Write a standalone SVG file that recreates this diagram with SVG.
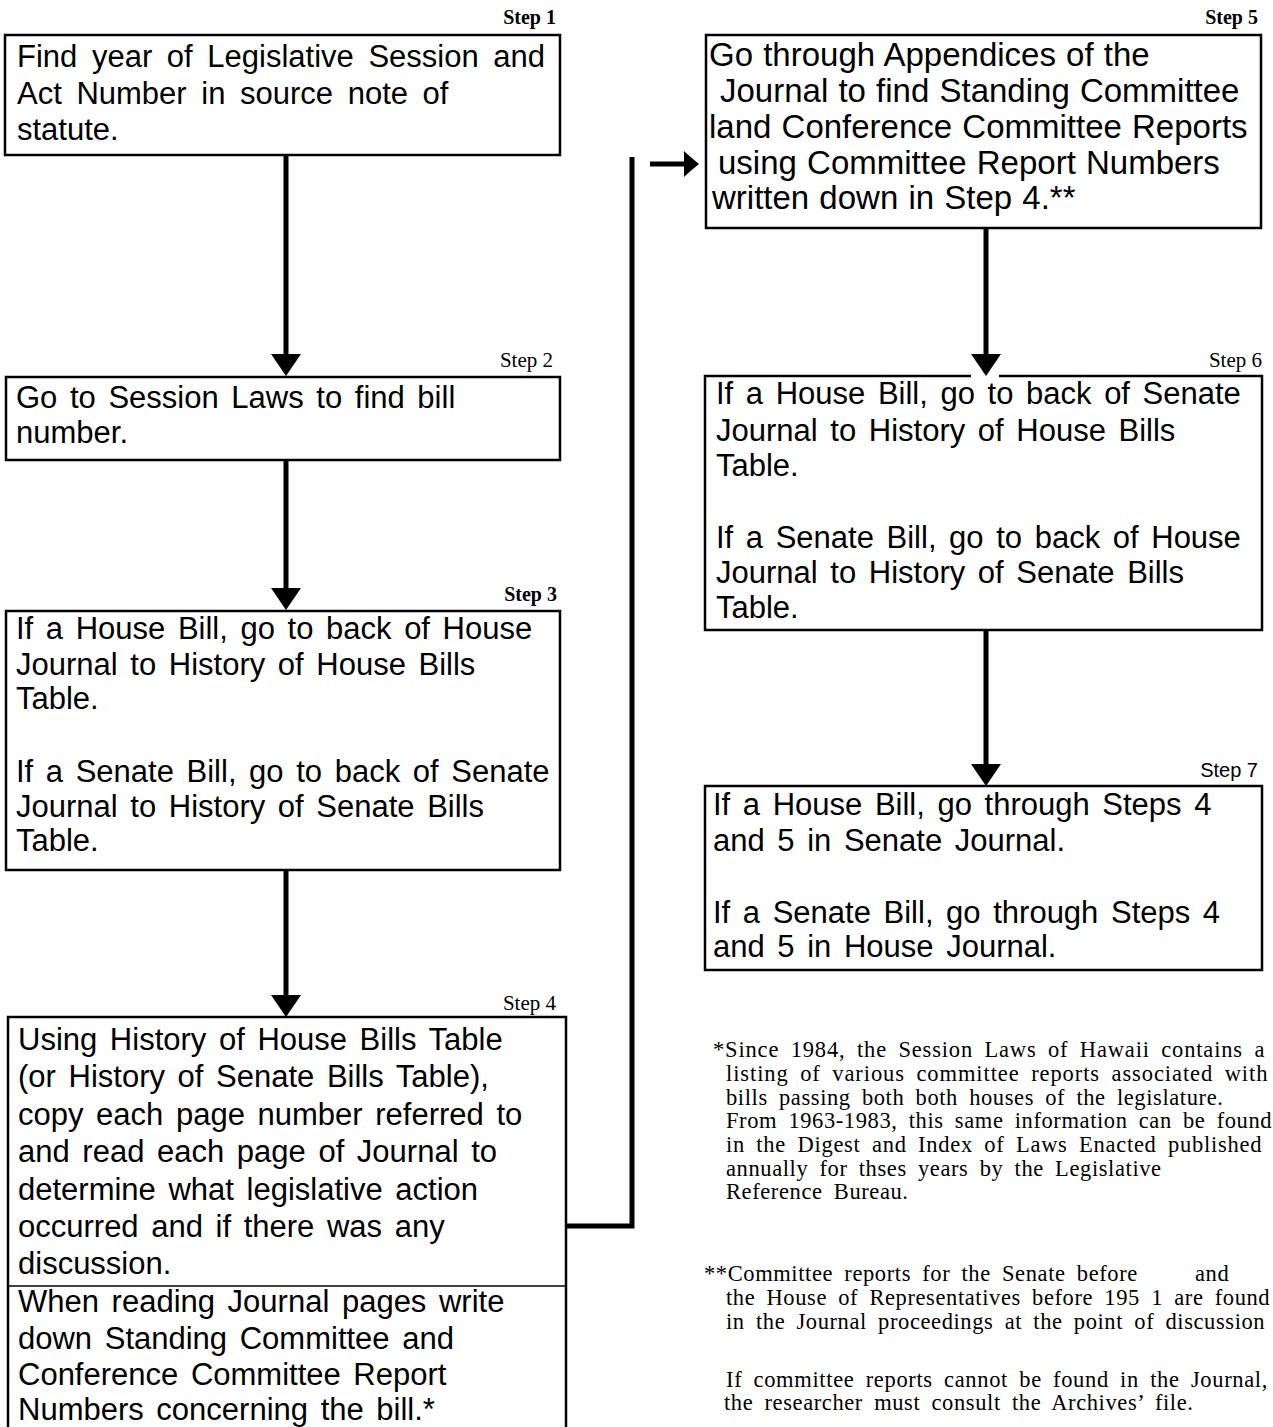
<svg xmlns="http://www.w3.org/2000/svg" width="1273" height="1427" viewBox="0 0 1273 1427">
<defs>
<style>
.box{fill:none;stroke:#000;stroke-width:2.5}
.thin{fill:none;stroke:#000;stroke-width:1.5}
.t{font-family:"Liberation Sans",Arial,sans-serif;font-size:31px;word-spacing:4px;fill:#000}
.t5{font-size:33px;word-spacing:1px}
.t1{word-spacing:6px}
.sb{font-family:"Liberation Serif","Times New Roman",serif;font-weight:bold;font-size:20px;text-anchor:end;fill:#000}
.sr{font-family:"Liberation Serif","Times New Roman",serif;font-size:21px;text-anchor:end;fill:#000}
.ss{font-family:"Liberation Sans",Arial,sans-serif;font-size:20px;text-anchor:end;fill:#000}
.fn{font-family:"Liberation Serif","Times New Roman",serif;font-size:22.5px;letter-spacing:0.6px;word-spacing:5px;fill:#000}
.conn{stroke:#000;stroke-width:5;fill:none}
</style>
<marker id="down" viewBox="0 0 22 30" refX="0" refY="15" markerWidth="22" markerHeight="30" markerUnits="userSpaceOnUse" orient="auto">
<path d="M0,0 L22,15 L0,30 z" fill="#000"/>
</marker>
<marker id="small" viewBox="0 0 15 26" refX="0" refY="13" markerWidth="15" markerHeight="26" markerUnits="userSpaceOnUse" orient="auto">
<path d="M0,0 Q4,4 15,13 Q4,22 0,26 z" fill="#000"/>
</marker>
</defs>
<rect width="1273" height="1427" fill="#fff"/>

<g id="connectors">
<path class="conn" d="M286,156 V354" marker-end="url(#down)"/>
<path class="conn" d="M286,461 V588" marker-end="url(#down)"/>
<path class="conn" d="M286,871 V995" marker-end="url(#down)"/>
<path class="conn" d="M567,1226 H632 V157"/>
<path class="conn" d="M650,164 H684" marker-end="url(#small)"/>
<path class="conn" d="M986,229 V354" marker-end="url(#down)"/>
<path class="conn" d="M986,631 V764" marker-end="url(#down)"/>
</g>

<g id="step1">
<rect class="box" x="5" y="35" width="555" height="120"/>
<text class="sb" x="556" y="24">Step 1</text>
<text class="t t1" x="17" y="67">Find year of Legislative Session and</text>
<text class="t t1" x="17" y="104">Act Number in source note of</text>
<text class="t t1" x="17" y="140">statute.</text>
</g>

<g id="step2">
<rect class="box" x="6" y="377" width="554" height="83"/>
<text class="sr" x="553" y="367">Step 2</text>
<text class="t" x="16" y="408">Go to Session Laws to find bill</text>
<text class="t" x="16" y="443">number.</text>
</g>

<g id="step3">
<rect class="box" x="6" y="611" width="554" height="259"/>
<text class="sb" x="557" y="601">Step 3</text>
<text class="t" x="16" y="639">If a House Bill, go to back of House</text>
<text class="t" x="16" y="675">Journal to History of House Bills</text>
<text class="t" x="16" y="709">Table.</text>
<text class="t" x="16" y="782">If a Senate Bill, go to back of Senate</text>
<text class="t" x="16" y="817">Journal to History of Senate Bills</text>
<text class="t" x="16" y="851">Table.</text>
</g>

<g id="step4">
<path class="box" d="M8,1430 V1017 H566 V1430"/>
<line class="thin" x1="8" y1="1286" x2="566" y2="1286"/>
<text class="sr" x="556" y="1010">Step 4</text>
<text class="t" x="18" y="1050">Using History of House Bills Table</text>
<text class="t" x="18" y="1087">(or History of Senate Bills Table),</text>
<text class="t" x="18" y="1125">copy each page number referred to</text>
<text class="t" x="18" y="1162">and read each page of Journal to</text>
<text class="t" x="18" y="1200">determine what legislative action</text>
<text class="t" x="18" y="1237">occurred and if there was any</text>
<text class="t" x="18" y="1274">discussion.</text>
<text class="t" x="18" y="1312">When reading Journal pages write</text>
<text class="t" x="18" y="1349">down Standing Committee and</text>
<text class="t" x="18" y="1385">Conference Committee Report</text>
<text class="t" x="18" y="1420">Numbers concerning the bill.*</text>
</g>

<g id="step5">
<rect class="box" x="706" y="35" width="555" height="193"/>
<text class="sb" x="1258" y="24">Step 5</text>
<text class="t t5" x="709" y="66">Go through Appendices of the</text>
<text class="t t5" x="720" y="102">Journal to find Standing Committee</text>
<text class="t t5" x="709" y="138">land Conference Committee Reports</text>
<text class="t t5" x="718" y="174">using Committee Report Numbers</text>
<text class="t t5" x="712" y="209">written down in Step 4.**</text>
</g>

<g id="step6">
<path class="box" d="M971,376 H705 V630 H1262 V376 H999"/>
<text class="sr" x="1262" y="367">Step 6</text>
<text class="t" x="716" y="404">If a House Bill, go to back of Senate</text>
<text class="t" x="716" y="441">Journal to History of House Bills</text>
<text class="t" x="716" y="476">Table.</text>
<text class="t" x="716" y="548">If a Senate Bill, go to back of House</text>
<text class="t" x="716" y="583">Journal to History of Senate Bills</text>
<text class="t" x="716" y="618">Table.</text>
</g>

<g id="step7">
<rect class="box" x="705" y="786" width="557" height="184"/>
<text class="ss" x="1258" y="777">Step 7</text>
<text class="t" x="713" y="815">If a House Bill, go through Steps 4</text>
<text class="t" x="713" y="851">and 5 in Senate Journal.</text>
<text class="t" x="713" y="923">If a Senate Bill, go through Steps 4</text>
<text class="t" x="713" y="957">and 5 in House Journal.</text>
</g>

<g id="footnotes">
<text class="fn" x="713" y="1057" textLength="552" lengthAdjust="spacing">*Since 1984, the Session Laws of Hawaii contains a</text>
<text class="fn" x="726" y="1081" textLength="542" lengthAdjust="spacing">listing of various committee reports associated with</text>
<text class="fn" x="726" y="1105">bills passing both both houses of the legislature.</text>
<text class="fn" x="726" y="1128">From 1963-1983, this same information can be found</text>
<text class="fn" x="726" y="1152" textLength="536" lengthAdjust="spacing">in the Digest and Index of Laws Enacted published</text>
<text class="fn" x="726" y="1176">annually for thses years by the Legislative</text>
<text class="fn" x="726" y="1199">Reference Bureau.</text>
<text class="fn" x="704" y="1281">**Committee reports for the Senate before</text>
<text class="fn" x="1195" y="1281">and</text>
<text class="fn" x="726" y="1305">the House of Representatives before 195 1 are found</text>
<text class="fn" x="726" y="1329">in the Journal proceedings at the point of discussion</text>
<text class="fn" x="726" y="1387" textLength="542" lengthAdjust="spacing">If committee reports cannot be found in the Journal,</text>
<text class="fn" x="724" y="1410">the researcher must consult the Archives’ file.</text>
</g>
</svg>
